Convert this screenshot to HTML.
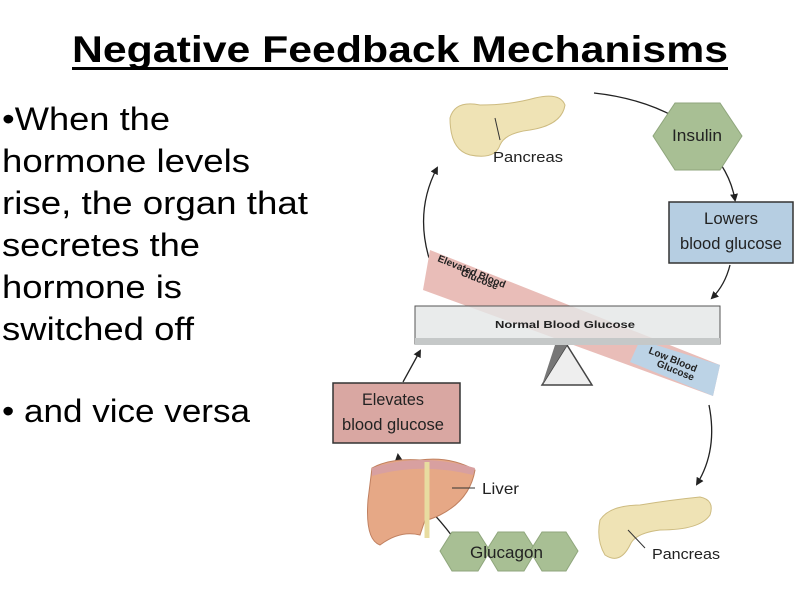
<!DOCTYPE html>
<html><head><meta charset="utf-8"><style>
html,body{margin:0;padding:0;background:#fff;width:800px;height:600px;overflow:hidden}
svg{display:block}
</style></head><body>
<svg width="800" height="600" viewBox="0 0 800 600" xmlns="http://www.w3.org/2000/svg">
<defs>
<marker id="ah" markerWidth="8" markerHeight="8" refX="6" refY="4" orient="auto" markerUnits="userSpaceOnUse"><path d="M0,0 L8,4 L0,8 z" fill="#222"/></marker>
</defs>
<g font-family="Liberation Sans, sans-serif">
<text x="72" y="62" font-size="37" font-weight="bold" textLength="656" lengthAdjust="spacingAndGlyphs">Negative Feedback Mechanisms</text>
<rect x="72" y="67" width="656" height="3" fill="#000"/>
<g font-size="32">
<text x="2" y="130" textLength="168" lengthAdjust="spacingAndGlyphs">•When the</text>
<text x="2" y="172" textLength="248" lengthAdjust="spacingAndGlyphs">hormone levels</text>
<text x="2" y="214" textLength="306" lengthAdjust="spacingAndGlyphs">rise, the organ that</text>
<text x="2" y="256" textLength="198" lengthAdjust="spacingAndGlyphs">secretes the</text>
<text x="2" y="298" textLength="180" lengthAdjust="spacingAndGlyphs">hormone is</text>
<text x="2" y="340" textLength="192" lengthAdjust="spacingAndGlyphs">switched off</text>
<text x="2" y="422" textLength="248" lengthAdjust="spacingAndGlyphs">• and vice versa</text>
</g>
</g>
<!-- arrows -->
<g fill="none" stroke="#222" stroke-width="1.3" marker-end="url(#ah)">
<path d="M594,93 Q640,98 675,117"/>
<path d="M429,258 Q415,210 437,168"/>
<path d="M705,145 Q730,170 735,200"/>
<path d="M730,265 Q725,285 712,298"/>
<path d="M709,405 Q718,450 697,484"/>
<path d="M403,382 L420,351"/>
<path d="M415,500 Q400,470 398,455"/>
<path d="M452,536 Q440,520 426,506"/>
</g>
<!-- pancreas top -->
<path d="M450,118 Q455,100 480,105 Q510,105 535,98 Q560,92 565,105 Q562,125 530,130 Q505,133 500,145 Q495,160 470,155 Q450,150 450,118z" fill="#efe3b5" stroke="#cdbb80"/>
<line x1="495" y1="118" x2="500" y2="140" stroke="#333"/>
<text x="493" y="162" font-family="Liberation Sans, sans-serif" font-size="15" fill="#222" textLength="70" lengthAdjust="spacingAndGlyphs">Pancreas</text>
<!-- insulin -->
<polygon points="653,136 675,103 720,103 742,136 720,170 675,170" fill="#a8bf94" stroke="#8fa67c"/>
<text x="672" y="141" font-family="Liberation Sans, sans-serif" font-size="17" fill="#222" textLength="50" lengthAdjust="spacingAndGlyphs">Insulin</text>
<!-- lowers -->
<rect x="669" y="202" width="124" height="61" fill="#b6cee2" stroke="#333" stroke-width="1.5"/>
<text x="704" y="224" font-family="Liberation Sans, sans-serif" font-size="17" fill="#222" textLength="54" lengthAdjust="spacingAndGlyphs">Lowers</text>
<text x="680" y="249" font-family="Liberation Sans, sans-serif" font-size="17" fill="#222" textLength="102" lengthAdjust="spacingAndGlyphs">blood glucose</text>
<!-- fulcrum -->
<polygon points="567,345 542,385 592,385" fill="#eee" stroke="#444" stroke-width="1.5"/>
<polygon points="555,345 542,385 567,345" fill="#777"/>
<!-- tilted board -->
<polygon points="430,250 720,365 713,396 423,290" fill="#e9bdb8"/>
<polygon points="640,340 720,365 713,396 630,362" fill="#bcd3e6"/>
<!-- beam -->
<rect x="415" y="306" width="305" height="38" fill="#e4e6e6" fill-opacity="0.8" stroke="#555" stroke-width="1"/>
<rect x="415" y="338" width="305" height="7" fill="#c5c8c8"/>
<text x="495" y="328" font-family="Liberation Sans, sans-serif" font-size="10" font-weight="bold" fill="#222" textLength="140" lengthAdjust="spacingAndGlyphs">Normal Blood Glucose</text>
<text transform="translate(437,261) rotate(22)" font-family="Liberation Sans, sans-serif" font-size="10" font-weight="bold" fill="#222">Elevated Blood</text>
<text transform="translate(460,275) rotate(22)" font-family="Liberation Sans, sans-serif" font-size="10" font-weight="bold" fill="#222">Glucose</text>
<text transform="translate(648,353) rotate(22)" font-family="Liberation Sans, sans-serif" font-size="10" font-weight="bold" fill="#222">Low Blood</text>
<text transform="translate(656,366) rotate(22)" font-family="Liberation Sans, sans-serif" font-size="10" font-weight="bold" fill="#222">Glucose</text>
<!-- elevates -->
<rect x="333" y="383" width="127" height="60" fill="#d9a7a2" stroke="#333" stroke-width="1.5"/>
<text x="362" y="405" font-family="Liberation Sans, sans-serif" font-size="17" fill="#222" textLength="62" lengthAdjust="spacingAndGlyphs">Elevates</text>
<text x="342" y="430" font-family="Liberation Sans, sans-serif" font-size="17" fill="#222" textLength="102" lengthAdjust="spacingAndGlyphs">blood glucose</text>
<!-- liver -->
<path d="M372,468 Q390,458 420,460 Q450,456 475,470 Q470,500 440,515 Q430,520 425,520 L420,535 Q400,530 380,545 Q365,540 368,500z" fill="#e6a886" stroke="#c08060"/>
<path d="M372,468 Q420,452 475,468 L473,475 Q420,462 372,476z" fill="#d8a0a0"/>
<path d="M427,462 L427,538" stroke="#e8dca0" stroke-width="5" fill="none"/>
<line x1="452" y1="488" x2="475" y2="488" stroke="#333"/>
<text x="482" y="494" font-family="Liberation Sans, sans-serif" font-size="16" fill="#222" textLength="37" lengthAdjust="spacingAndGlyphs">Liver</text>
<!-- glucagon -->
<g fill="#a8bf94" stroke="#8fa67c">
<polygon points="440,551 452,532 478,532 490,551 478,571 452,571"/>
<polygon points="486,551 498,532 524,532 536,551 524,571 498,571"/>
<polygon points="530,551 542,532 566,532 578,551 566,571 542,571"/>
</g>
<text x="470" y="558" font-family="Liberation Sans, sans-serif" font-size="17" fill="#222" textLength="73" lengthAdjust="spacingAndGlyphs">Glucagon</text>
<!-- pancreas bottom -->
<path d="M600,520 Q610,505 640,505 Q670,500 700,497 Q715,500 710,515 Q700,530 660,530 Q635,533 630,545 Q620,565 605,555 Q596,540 600,520z" fill="#efe3b5" stroke="#cdbb80"/>
<line x1="628" y1="530" x2="645" y2="548" stroke="#333"/>
<text x="652" y="559" font-family="Liberation Sans, sans-serif" font-size="15" fill="#222" textLength="68" lengthAdjust="spacingAndGlyphs">Pancreas</text>
</svg>
</body></html>
